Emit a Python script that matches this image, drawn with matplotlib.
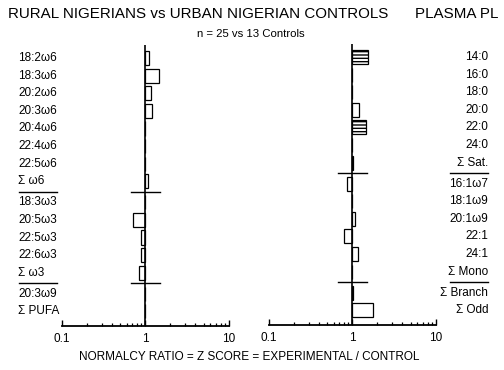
"""
Normalcy ratio chart: rural vs urban Nigerian plasma fatty acids.
"""

import matplotlib

matplotlib.use("Agg")
import matplotlib.pyplot as plt
import matplotlib.transforms as mtransforms
import numpy as np

plt.rcParams["font.family"] = ["Liberation Sans", "DejaVu Sans"]

# left panel: polyunsaturated
LEFT_LABELS = [
    "18:2ω6", "18:3ω6", "20:2ω6", "20:3ω6", "20:4ω6", "22:4ω6", "22:5ω6", "Σ ω6",
    "18:3ω3", "20:5ω3", "22:5ω3", "22:6ω3", "Σ ω3",
    "20:3ω9", "Σ PUFA",
]
LEFT_GROUPS = [8, 5, 2]
LEFT_VALUES = [1.12, 1.45, 1.16, 1.19, 1.0, 1.0, 1.0, 1.09,
               1.0, 0.71, 0.88, 0.89, 0.84,
               1.0, 1.0]
LEFT_HATCHED = []

# right panel: saturated, mono, branched/odd
RIGHT_LABELS = [
    "14:0", "16:0", "18:0", "20:0", "22:0", "24:0", "Σ Sat.",
    "16:1ω7", "18:1ω9", "20:1ω9", "22:1", "24:1", "Σ Mono",
    "Σ Branch", "Σ Odd",
]
RIGHT_GROUPS = [7, 6, 2]
RIGHT_VALUES = [1.53, 1.0, 1.0, 1.2, 1.45, 1.0, 1.02,
                0.87, 0.98, 1.08, 0.8, 1.16, 1.0,
                1.02, 1.76]
RIGHT_HATCHED = ["14:0", "22:0"]

GROUP_GAP = 0.2
FS_LABEL = 8.5


def row_positions(groups):
    pos = []
    offset = 0.0
    i = 0
    for g in groups:
        for _ in range(g):
            pos.append(i + offset)
            i += 1
        offset += GROUP_GAP
    return np.array(pos)


def divider_positions(groups, pos):
    out = []
    idx = 0
    for g in groups[:-1]:
        idx += g
        out.append((pos[idx - 1] + pos[idx]) / 2)
    return out


def draw_panel(ax, labels, values, groups, hatched, side):
    y = row_positions(groups)
    vals = np.array(values)
    for yi, v, lab in zip(y, vals, labels):
        ax.barh(yi, v - 1.0, left=1.0, height=0.8, color="white",
                edgecolor="black", linewidth=0.9,
                hatch="-----" if lab in hatched else None, zorder=2)
    ax.axvline(1.0, color="black", lw=1.2, zorder=3)

    trans = mtransforms.blended_transform_factory(ax.transAxes, ax.transData)
    for yi, lab in zip(y, labels):
        if side == "left":
            ax.text(-0.264, yi, lab, transform=trans, ha="left", va="center",
                    fontsize=FS_LABEL)
        else:
            ax.text(1.315, yi, lab, transform=trans, ha="right", va="center",
                    fontsize=FS_LABEL)

    for d in divider_positions(groups, y):
        ax.plot([0.68, 1.5], [d, d], color="black", lw=1.0, zorder=3)
        xs = [-0.258, -0.03] if side == "left" else [1.086, 1.315]
        ax.plot(xs, [d, d], transform=trans, color="black", lw=1.0,
                clip_on=False)

    ax.set_xscale("log")
    ax.set_xlim(0.1, 10)
    ax.set_ylim(15.23, -0.74)
    ax.set_xticks([0.1, 1, 10], labels=["0.1", "1", "10"])
    ax.tick_params(axis="x", which="major", direction="in", length=4,
                   width=1.0, labelsize=FS_LABEL, pad=5)
    ax.tick_params(axis="x", which="minor", direction="in", length=2.5,
                   width=0.9)
    ax.set_yticks([])
    for s in ("left", "right", "top"):
        ax.spines[s].set_visible(False)
    ax.spines["bottom"].set_linewidth(1.3)


def main():
    fig = plt.figure(figsize=(5.04, 3.70), dpi=100)
    ax_l = fig.add_axes([0.123, 0.119, 0.3306, 0.759])
    ax_r = fig.add_axes([0.5337, 0.122, 0.3306, 0.759])

    draw_panel(ax_l, LEFT_LABELS, LEFT_VALUES, LEFT_GROUPS, LEFT_HATCHED, "left")
    draw_panel(ax_r, RIGHT_LABELS, RIGHT_VALUES, RIGHT_GROUPS, RIGHT_HATCHED, "right")

    fig.text(0.016, 0.951, "RURAL NIGERIANS vs URBAN NIGERIAN CONTROLS",
             fontsize=10.9, ha="left", va="baseline")
    fig.text(0.823, 0.951, "PLASMA PL", fontsize=10.9, ha="left", va="baseline")
    fig.text(0.498, 0.908, "n = 25 vs 13 Controls", fontsize=8.2,
             ha="center", va="center")
    fig.text(0.495, 0.035, "NORMALCY RATIO = Z SCORE = EXPERIMENTAL / CONTROL",
             fontsize=8.5, ha="center", va="center")

    fig.savefig("out.png", dpi=100)
    plt.close(fig)


if __name__ == "__main__":
    main()
